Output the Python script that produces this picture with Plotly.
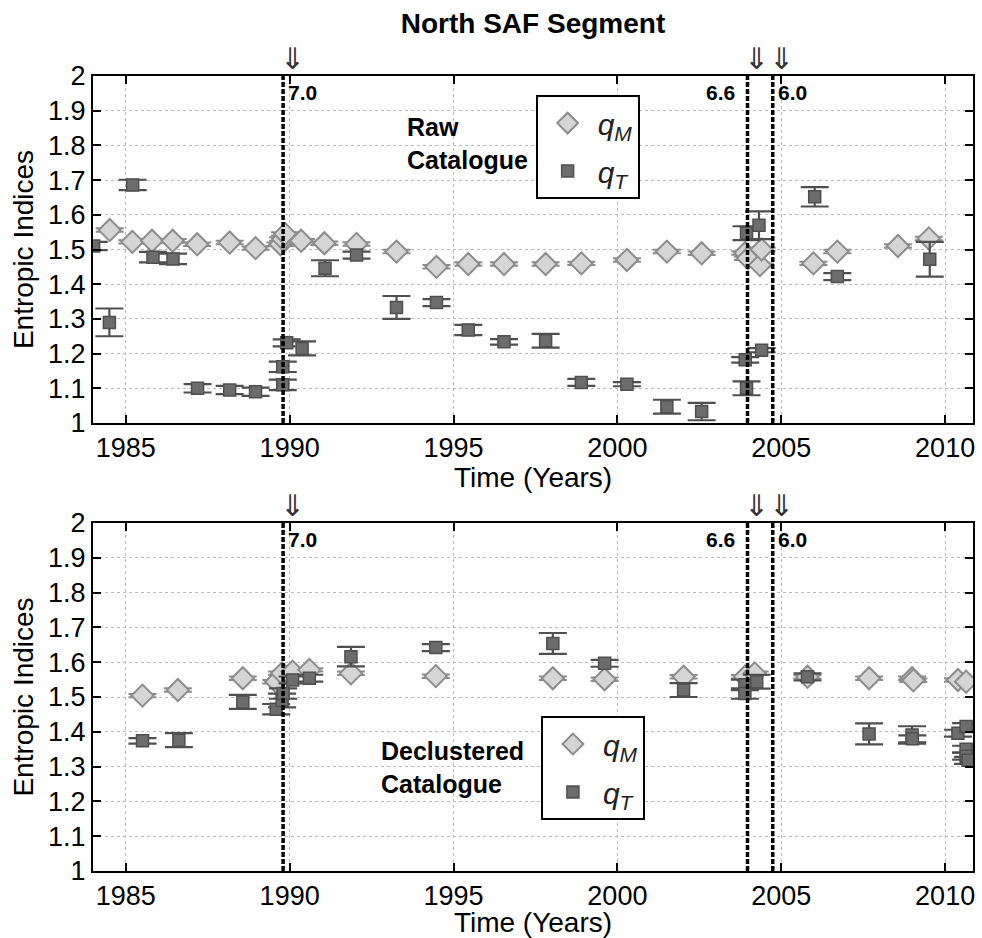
import plotly.graph_objects as go
from plotly.subplots import make_subplots

# ---------------- data ----------------
raw_qM_year = [1984.51, 1985.20, 1985.80, 1986.43, 1987.18, 1988.17, 1988.96, 1989.72, 1989.80,
               1989.86, 1990.35, 1991.06, 1992.04, 1993.26, 1994.48, 1995.45, 1996.54, 1997.81,
               1998.90, 2000.29, 2001.51, 2002.57, 2003.90, 2003.98, 2004.35, 2004.40, 2005.98,
               2006.71, 2008.56, 2009.50]
raw_qM_val = [1.556, 1.522, 1.525, 1.525, 1.515, 1.520, 1.504, 1.515, 1.530,
              1.545, 1.525, 1.518, 1.516, 1.494, 1.450, 1.458, 1.458, 1.458,
              1.460, 1.470, 1.494, 1.489, 1.490, 1.475, 1.455, 1.500, 1.460,
              1.494, 1.510, 1.532]
raw_qM_err = [0.005] * len(raw_qM_val)

raw_qT_year = [1984.02, 1984.50, 1985.21, 1985.83, 1986.44, 1987.19, 1988.17, 1988.96, 1989.79,
               1989.79, 1989.91, 1990.38, 1991.08, 1992.04, 1993.26, 1994.48, 1995.45, 1996.54,
               1997.81, 1998.90, 2000.29, 2001.51, 2002.57, 2003.94, 2003.90, 2004.40, 2003.94,
               2004.32, 2006.02, 2006.71, 2009.53]
raw_qT_val = [1.510, 1.290, 1.686, 1.478, 1.473, 1.100, 1.095, 1.090, 1.110,
              1.162, 1.231, 1.215, 1.446, 1.484, 1.333, 1.347, 1.268, 1.234,
              1.237, 1.117, 1.112, 1.047, 1.033, 1.100, 1.182, 1.210, 1.547,
              1.570, 1.652, 1.422, 1.472]
raw_qT_err = [0.012, 0.040, 0.015, 0.015, 0.015, 0.012, 0.012, 0.012, 0.015,
              0.015, 0.010, 0.020, 0.023, 0.010, 0.033, 0.010, 0.015, 0.008,
              0.020, 0.010, 0.006, 0.020, 0.025, 0.020, 0.008, 0.006, 0.020,
              0.040, 0.028, 0.010, 0.050]

dec_qM_year = [1985.51, 1986.59, 1988.57, 1989.59, 1989.77, 1990.09, 1990.60, 1991.87, 1994.46,
               1998.03, 1999.61, 2002.02, 2003.89, 2004.19, 2005.80, 2007.68, 2008.99, 2009.03,
               2010.39, 2010.64]
dec_qM_val = [1.504, 1.520, 1.554, 1.544, 1.568, 1.573, 1.578, 1.568, 1.560,
              1.554, 1.551, 1.558, 1.558, 1.568, 1.558, 1.554, 1.554, 1.548,
              1.549, 1.544]
dec_qM_err = [0.005] * len(dec_qM_val)

dec_qT_year = [1985.51, 1986.62, 1988.57, 1989.59, 1989.77, 1989.80, 1990.09, 1990.60, 1991.87,
               1994.46, 1998.03, 1999.61, 2002.02, 2003.89, 2003.89, 2004.25, 2005.80, 2007.68,
               2008.99, 2009.00, 2010.39, 2010.64, 2010.64, 2010.64, 2010.70]
dec_qT_val = [1.374, 1.376, 1.486, 1.465, 1.490, 1.510, 1.549, 1.554, 1.616,
              1.642, 1.654, 1.597, 1.520, 1.535, 1.510, 1.544, 1.558, 1.394,
              1.391, 1.380, 1.396, 1.415, 1.350, 1.330, 1.318]
dec_qT_err = [0.008, 0.020, 0.020, 0.015, 0.020, 0.015, 0.010, 0.010, 0.028,
              0.010, 0.030, 0.010, 0.020, 0.015, 0.015, 0.020, 0.010, 0.030,
              0.025, 0.010, 0.010, 0.010, 0.010, 0.010, 0.010]

event_year = [1989.80, 2003.97, 2004.74]
event_label = ["7.0", "6.6", "6.0"]
event_label_side = ["right", "left", "right"]

x_ticks = [1985, 1990, 1995, 2000, 2005, 2010]
y_ticks = [1.0, 1.1, 1.2, 1.3, 1.4, 1.5, 1.6, 1.7, 1.8, 1.9, 2.0]
y_ticktext = ["1", "1.1", "1.2", "1.3", "1.4", "1.5", "1.6", "1.7", "1.8", "1.9", "2"]

panel_text = ["Raw<br>Catalogue", "Declustered<br>Catalogue"]

# ---------------- styles ----------------
FONT = "Arial, Liberation Sans, sans-serif"
DIAM_FILL = "#d5d5d5"
DIAM_LINE = "#8c8c8c"
SQ_FILL = "#6c6c6c"
SQ_LINE = "#4f4f4f"

fig = make_subplots(rows=2, cols=1)

def add_panel(row, qm_x, qm_y, qm_e, qt_x, qt_y, qt_e, legend_name):
    fig.add_trace(go.Scatter(
        x=qm_x, y=qm_y, mode="markers", name="<i>q</i><sub><i>M</i></sub>",
        marker=dict(symbol="diamond", size=17, color=DIAM_FILL,
                    line=dict(color=DIAM_LINE, width=2)),
        error_y=dict(type="data", array=qm_e, visible=True, width=14,
                     thickness=2, color=DIAM_LINE),
        legend=legend_name, legendgroup=legend_name + "m"), row=row, col=1)
    fig.add_trace(go.Scatter(
        x=qt_x, y=qt_y, mode="markers", name="<i>q</i><sub><i>T</i></sub>",
        marker=dict(symbol="square", size=12, color=SQ_FILL,
                    line=dict(color=SQ_LINE, width=1.5)),
        error_y=dict(type="data", array=qt_e, visible=True, width=14,
                     thickness=2.2, color=SQ_LINE),
        legend=legend_name, legendgroup=legend_name + "t"), row=row, col=1)

add_panel(1, raw_qM_year, raw_qM_val, raw_qM_err, raw_qT_year, raw_qT_val, raw_qT_err, "legend")
add_panel(2, dec_qM_year, dec_qM_val, dec_qM_err, dec_qT_year, dec_qT_val, dec_qT_err, "legend2")

axis_common = dict(
    showline=True, linewidth=2, linecolor="black", mirror="ticks",
    ticks="inside", ticklen=8, tickwidth=2, tickcolor="black",
    showgrid=True, gridcolor="#bcbcbc", gridwidth=1, griddash="dot",
    zeroline=False, tickfont=dict(family=FONT, size=27, color="black"),
)

title_font = dict(family=FONT, size=28, color="black")

# top panel: axis title placed as an annotation (closer to the tick labels)
fig.update_xaxes(range=[1984.0, 2010.85], tickvals=x_ticks, **axis_common, row=1, col=1)
fig.update_xaxes(range=[1984.0, 2010.85], tickvals=x_ticks,
                 title=dict(text="Time (Years)", font=title_font, standoff=0),
                 **axis_common, row=2, col=1)
for r, dom in [(1, [0.5635, 1.0]), (2, [0.0, 0.4377])]:
    fig.update_yaxes(range=[1.0, 2.0], tickvals=y_ticks, ticktext=y_ticktext, domain=dom,
                     title=dict(text="Entropic Indices", font=title_font, standoff=6),
                     **axis_common, row=r, col=1)

shapes = []
annotations = []
for r, (xr, yr) in enumerate([("x", "y"), ("x2", "y2")]):
    for yv, lab, side in zip(event_year, event_label, event_label_side):
        shapes.append(dict(type="line", xref=xr, yref=yr + " domain", x0=yv, x1=yv, y0=0, y1=1,
                           line=dict(color="black", width=3.5, dash="5px,2px")))
        annotations.append(dict(xref=xr, yref=yr + " domain", x=yv, y=1, xshift=9, yshift=-2,
                                yanchor="bottom", xanchor="center", showarrow=False,
                                text="⇓", font=dict(family="DejaVu Sans", size=30, color="#333")))
        annotations.append(dict(xref=xr, yref=yr + " domain", x=yv, y=1, yshift=-3,
                                yanchor="top", xanchor="left" if side == "right" else "right",
                                xshift=3 if side == "right" else -11, showarrow=False,
                                text="<b>" + lab + "</b>",
                                font=dict(family=FONT, size=21, color="black")))

annotations.append(dict(xref="x domain", yref="y domain", x=0.5, y=0, yshift=-54,
                        xanchor="center", yanchor="middle", showarrow=False,
                        text="Time (Years)", font=title_font))
annotations.append(dict(xref="x domain", yref="y domain", x=0.355, y=0.9, xanchor="left",
                        yanchor="top", align="left", showarrow=False, text="<b>" + panel_text[0] + "</b>",
                        font=dict(family=FONT, size=25, color="black")))
annotations.append(dict(xref="x2 domain", yref="y2 domain", x=0.325, y=0.39, xanchor="left",
                        yanchor="top", align="left", showarrow=False, text="<b>" + panel_text[1] + "</b>",
                        font=dict(family=FONT, size=25, color="black")))

legend_common = dict(xanchor="left", yanchor="top", bgcolor="white", bordercolor="black",
                     borderwidth=2, font=dict(family=FONT, size=30, color="#222"),
                     tracegroupgap=6, itemwidth=50)

fig.update_layout(
    width=982, height=938,
    margin=dict(l=93, r=7, t=76, b=67),
    plot_bgcolor="white", paper_bgcolor="white",
    title=dict(text="<b>North SAF Segment</b>", x=0.5, xref="paper", xanchor="center",
               y=0.975, yref="container", yanchor="middle",
               font=dict(family=FONT, size=28, color="black")),
    showlegend=True,
    legend=dict(x=0.503, y=0.976, **legend_common),
    legend2=dict(x=0.509, y=0.195, **legend_common),
    shapes=shapes, annotations=annotations,
)

fig.write_html("out.html")
